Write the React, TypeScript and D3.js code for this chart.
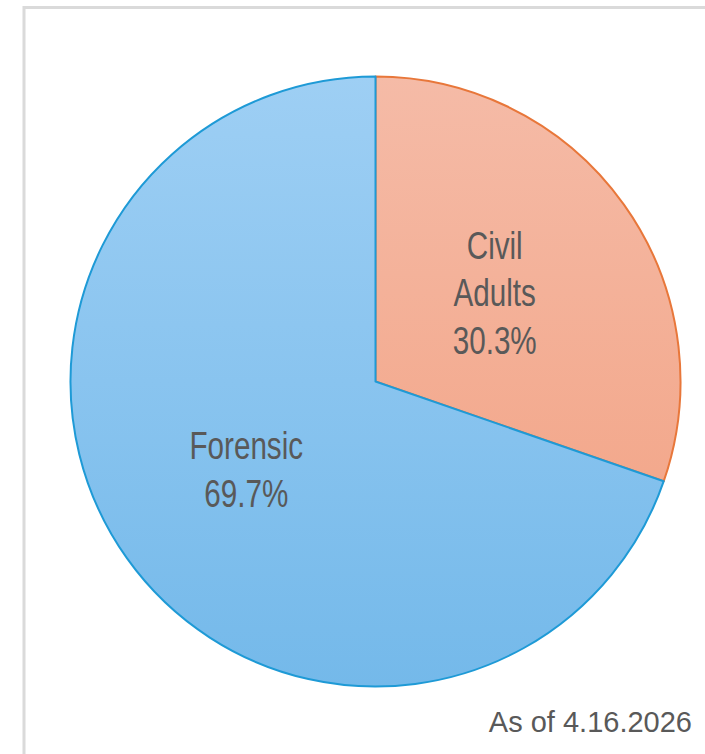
import React from "react";
import * as d3 from "d3";

const categories = ["Civil Adults", "Forensic"];
const labelLines = [["Civil", "Adults"], ["Forensic"]];
const values = [30.3, 69.7];
const footnote = "As of 4.16.2026";

const W = 705;
const H = 754;
const cx = 375.5;
const cy = 381.5;
const R = 305;

const gradTop = ["#f5bba7", "#9ecff4"];
const gradBottom = ["#f29f7f", "#74b9ea"];
const strokes = ["#e8773a", "#1e9ad6"];

export default function App() {
  const pie = d3.pie<number>().sort(null).value((d) => d);
  const arcs = pie(values);
  const arcGen = d3.arc<d3.PieArcDatum<number>>().innerRadius(0).outerRadius(R);
  const labelArc = d3.arc<d3.PieArcDatum<number>>().innerRadius(R * 0.5).outerRadius(R * 0.5);
  const fmt = d3.format(".1f");
  const lineH = 47.5;
  const order = [0, 1];
  return (
    <svg width={W} height={H} style={{ position: "absolute", left: 0, top: 0 }}>
      <defs>
        {categories.map((c, i) => (
          <linearGradient key={c} id={`g${i}`} gradientUnits="userSpaceOnUse" x1={0} y1={-R} x2={0} y2={R}>
            <stop offset="0%" stopColor={gradTop[i]} />
            <stop offset="100%" stopColor={gradBottom[i]} />
          </linearGradient>
        ))}
      </defs>
      <rect x={24} y={7.5} width={W + 10} height={H + 10} fill="#fff" stroke="#dadada" strokeWidth={3} />
      <g transform={`translate(${cx},${cy})`}>
        {order.map((i) => (
          <path key={categories[i]} d={arcGen(arcs[i]) || ""} fill={`url(#g${i})`} stroke={strokes[i]} strokeWidth={2} strokeLinejoin="round" />
        ))}
        {arcs.map((a, i) => {
          const [lx, ly] = labelArc.centroid(a);
          const lines = [...labelLines[i], `${fmt(values[i])}%`];
          const y0 = ly - ((lines.length - 1) * lineH) / 2 + 13;
          return (
            <g key={`l${i}`} transform={`translate(${lx - 5},0) scale(0.78,1)`}>
              {lines.map((t, j) => (
                <text key={j} x={0} y={y0 + j * lineH} textAnchor="middle" fontFamily="Liberation Sans, Arial, sans-serif" fontSize={38} fill="#595959">
                  {t}
                </text>
              ))}
            </g>
          );
        })}
      </g>
      <text x={692} y={732} textAnchor="end" fontFamily="Liberation Sans, Arial, sans-serif" fontSize={29} fill="#595959">
        {footnote}
      </text>
    </svg>
  );
}
